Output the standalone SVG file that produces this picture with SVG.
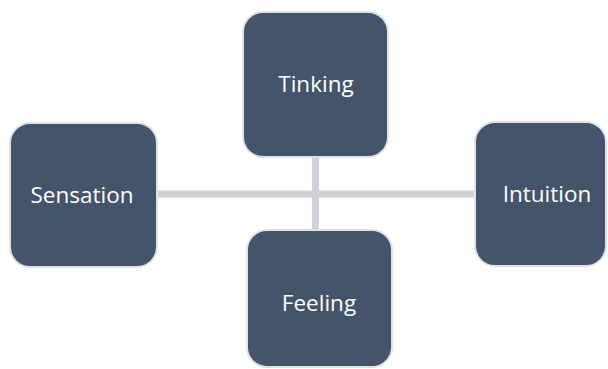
<svg xmlns="http://www.w3.org/2000/svg" width="608" height="369" viewBox="0 0 608 369">
  <style>
    .box { fill: #44546a; stroke: #e2e2e4; stroke-width: 2; }
    .label { fill: #ffffff; font-family: "Open Sans", "Noto Sans", sans-serif; font-size: 22.5px; text-anchor: middle; }
    .link { stroke: #d0d1d6; stroke-width: 7; fill: none; }
  </style>
  <rect width="608" height="369" fill="#ffffff"/>
  <g id="connectors">
    <line class="link" x1="157" y1="194" x2="475" y2="194"/>
    <line class="link" x1="315.5" y1="157" x2="315.5" y2="230"/>
  </g>
  <g id="node-thinking">
    <rect class="box" x="243" y="12" width="145" height="145" rx="20"/>
    <text class="label" x="316" y="92">Tinking</text>
  </g>
  <g id="node-sensation">
    <rect class="box" x="10" y="123" width="147" height="144" rx="20"/>
    <text class="label" x="82" y="203">Sensation</text>
  </g>
  <g id="node-feeling">
    <rect class="box" x="247" y="230" width="145" height="137" rx="20"/>
    <text class="label" x="319" y="311">Feeling</text>
  </g>
  <g id="node-intuition">
    <rect class="box" x="475" y="122" width="131" height="144" rx="20"/>
    <text class="label" x="547" y="202">Intuition</text>
  </g>
</svg>
